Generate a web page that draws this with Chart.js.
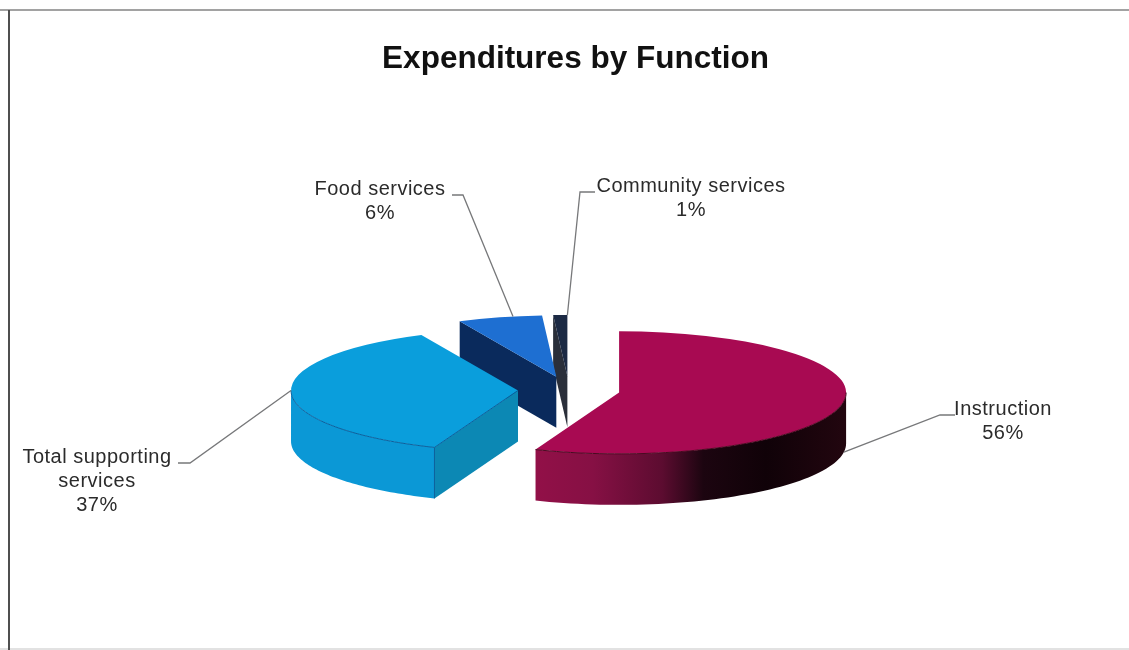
<!DOCTYPE html>
<html>
<head>
<meta charset="utf-8">
<title>Expenditures by Function</title>
<script src="https://cdn.jsdelivr.net/npm/chart.js@4/dist/chart.umd.min.js"></script>
<style>
  html, body { margin: 0; padding: 0; background: #fff; }
  canvas { display: block; }
</style>
</head>
<body>
<canvas id="functionChart" width="1129" height="650"></canvas>
<script>
var chartTitle = 'Expenditures by Function';
var categories = ['Instruction', 'Total supporting services', 'Food services', 'Community services'];
var shares = [56, 37, 6, 1];

// label text is broken by hand so the long category wraps on two lines
var labelLines = [['Instruction'], ['Total supporting', 'services'], ['Food services'], ['Community services']];
var labelCentres = [[1003, 409], [97, 457], [380, 189], [691, 186]];
var labelElbows = [[[955, 415], [940, 415]], [[178, 463], [190, 463]], [[452, 195], [463, 195]], [[595, 192], [580, 192]]];
var leaderAngles = [8, 180, 259, 270];
var leaderDepths = [1, 0, 0, 0];

var topColours = ['#a80a52', '#0a9edc', '#1e6fd2', '#1c2a44'];
var rimColours = [null, '#0b98d6', '#0a2a5c', '#1c2a44'];
var faceColours = ['#7a0f42', '#0c88b4', '#0a2a5c', '#2a2f3a'];

var pieX = 569;
var pieY = 390;
var pieRadius = 227;
var explode = 51;
var squash = 0.27;
var depth = 51;
var FONT = '"Liberation Sans", Arial, sans-serif';

function sliceGeometry(arc) {
    var mid = (arc.startAngle + arc.endAngle) / 2;
    return {
        ax: pieX + Math.cos(mid) * explode,
        ay: Math.sin(mid) * explode,
        r: pieRadius,
        start: arc.startAngle,
        end: arc.endAngle
    };
}

function project(g, angle, r, down) {
    return [g.ax + Math.cos(angle) * r, pieY + (g.ay + Math.sin(angle) * r) * squash + down];
}

function rimPath(ctx, g, a0, a1) {
    var steps = 60;
    ctx.beginPath();
    for (var i = 0; i <= steps; i++) {
        var p = project(g, a0 + (a1 - a0) * i / steps, g.r, 0);
        if (i === 0) ctx.moveTo(p[0], p[1]); else ctx.lineTo(p[0], p[1]);
    }
    for (var j = steps; j >= 0; j--) {
        var q = project(g, a0 + (a1 - a0) * j / steps, g.r, depth);
        ctx.lineTo(q[0], q[1]);
    }
    ctx.closePath();
}

function visibleRim(g) {
    // the front of the pie is the canvas angle range 0..PI
    var two = Math.PI * 2;
    var ranges = [];
    for (var k = -1; k <= 1; k++) {
        var a0 = Math.max(g.start, k * two);
        var a1 = Math.min(g.end, Math.PI + k * two);
        if (a1 > a0) ranges.push([a0, a1]);
    }
    return ranges;
}

function drawFace(ctx, g, angle, colour) {
    var o = project(g, 0, 0, 0);
    var p = project(g, angle, g.r, 0);
    ctx.beginPath();
    ctx.moveTo(o[0], o[1]);
    ctx.lineTo(p[0], p[1]);
    ctx.lineTo(p[0], p[1] + depth);
    ctx.lineTo(o[0], o[1] + depth);
    ctx.closePath();
    ctx.fillStyle = colour;
    ctx.fill();
}

function instructionRimFill(ctx) {
    var grad = ctx.createLinearGradient(530, 0, 845, 0);
    grad.addColorStop(0, '#931048');
    grad.addColorStop(0.2, '#861044');
    grad.addColorStop(0.42, '#5c0c30');
    grad.addColorStop(0.55, '#1c0510');
    grad.addColorStop(0.75, '#100208');
    grad.addColorStop(1, '#22060f');
    return grad;
}

// extruded sides go under the library's arcs, the arcs get squashed into the top face
var pie3d = {
    id: 'pie3d',
    afterDatasetsUpdate: function(chart) {
        // pull every slice away from the middle, the arc offset option would also resize them
        var area = chart.chartArea;
        chart.getDatasetMeta(0).data.forEach(function(arc) {
            var mid = (arc.startAngle + arc.endAngle) / 2;
            arc.x = (area.left + area.right) / 2 + Math.cos(mid) * explode;
            arc.y = (area.top + area.bottom) / 2 + Math.sin(mid) * explode;
            arc.outerRadius = pieRadius;
        });
    },
    beforeDatasetsDraw: function(chart) {
        var ctx = chart.ctx;
        var arcs = chart.getDatasetMeta(0).data;
        var area = chart.chartArea;
        ctx.save();
        for (var i = arcs.length - 1; i >= 0; i--) {
            var g = sliceGeometry(arcs[i]);
            if (Math.sin(g.start - Math.PI / 2) > 0.001) drawFace(ctx, g, g.start, faceColours[i]);
            if (Math.sin(g.end + Math.PI / 2) > 0.001) drawFace(ctx, g, g.end, faceColours[i]);
            visibleRim(g).forEach(function(range) {
                rimPath(ctx, g, range[0], range[1]);
                ctx.fillStyle = rimColours[i] || instructionRimFill(ctx);
                ctx.fill();
            });
        }
        ctx.restore();
        ctx.save();
        ctx.translate(pieX, pieY);
        ctx.scale(1, squash);
        ctx.translate(-(area.left + area.right) / 2, -(area.top + area.bottom) / 2);
    },
    afterDatasetsDraw: function(chart) {
        var ctx = chart.ctx;
        var arcs = chart.getDatasetMeta(0).data;
        ctx.restore();
        // darker seam along the front edge of the top face
        ctx.save();
        ctx.lineWidth = 1;
        var seam = ['#4a0820', '#0b5f9c', '#0a2a5c', '#1c2a44'];
        arcs.forEach(function(arc, i) {
            var g = sliceGeometry(arc);
            ctx.strokeStyle = seam[i];
            visibleRim(g).forEach(function(range) {
                ctx.beginPath();
                for (var s = 0; s <= 60; s++) {
                    var p = project(g, range[0] + (range[1] - range[0]) * s / 60, g.r, 0);
                    if (s === 0) ctx.moveTo(p[0], p[1]); else ctx.lineTo(p[0], p[1]);
                }
                ctx.stroke();
            });
            if (i === 1) {
                var o = project(g, 0, 0, 0);
                var e = project(g, g.start, g.r, 0);
                ctx.beginPath();
                ctx.moveTo(o[0], o[1]);
                ctx.lineTo(e[0], e[1]);
                ctx.lineTo(e[0], e[1] + depth);
                ctx.stroke();
            }
        });
        ctx.restore();
    }
};

var sliceLabels = {
    id: 'sliceLabels',
    afterDraw: function(chart) {
        var ctx = chart.ctx;
        var arcs = chart.getDatasetMeta(0).data;
        ctx.save();
        arcs.forEach(function(arc, i) {
            var g = sliceGeometry(arc);
            var end = project(g, leaderAngles[i] * Math.PI / 180, g.r, leaderDepths[i] * depth);
            ctx.strokeStyle = '#77787a';
            ctx.lineWidth = 1.3;
            ctx.beginPath();
            ctx.moveTo(labelElbows[i][0][0], labelElbows[i][0][1]);
            ctx.lineTo(labelElbows[i][1][0], labelElbows[i][1][1]);
            ctx.lineTo(end[0], end[1]);
            ctx.stroke();

            var lines = labelLines[i].concat([shares[i] + '%']);
            ctx.fillStyle = '#2b2b2b';
            ctx.font = '20px ' + FONT;
            ctx.letterSpacing = '0.5px';
            ctx.textAlign = 'center';
            ctx.textBaseline = 'middle';
            lines.forEach(function(line, n) {
                ctx.fillText(line, labelCentres[i][0], labelCentres[i][1] + n * 24);
            });
        });
        ctx.restore();
    }
};

var pageFrame = {
    id: 'pageFrame',
    beforeDraw: function(chart) {
        var ctx = chart.ctx;
        ctx.save();
        ctx.fillStyle = '#fff';
        ctx.fillRect(0, 0, chart.width, chart.height);
        ctx.fillStyle = '#a2a2a2';
        ctx.fillRect(0, 9, chart.width, 2);
        ctx.fillStyle = '#e2e2e2';
        ctx.fillRect(0, 648, chart.width, 2);
        ctx.fillStyle = '#4f4f4f';
        ctx.fillRect(8, 10, 2, chart.height - 10);
        ctx.restore();
    }
};

var chart = new Chart(document.getElementById('functionChart'), {
    type: 'pie',
    data: {
        labels: categories,
        datasets: [{
            data: shares,
            backgroundColor: topColours,
            borderWidth: 0
        }]
    },
    options: {
        responsive: false,
        animation: false,
        layout: { padding: { left: 22, right: 0 } },
        plugins: {
            legend: { display: false },
            tooltip: { enabled: false },
            title: {
                display: true,
                text: chartTitle,
                color: '#111',
                font: { family: FONT, size: 31.5, weight: 'bold' },
                padding: { top: 40, bottom: 10 }
            }
        }
    },
    plugins: [pageFrame, pie3d, sliceLabels]
});
</script>
</body>
</html>
